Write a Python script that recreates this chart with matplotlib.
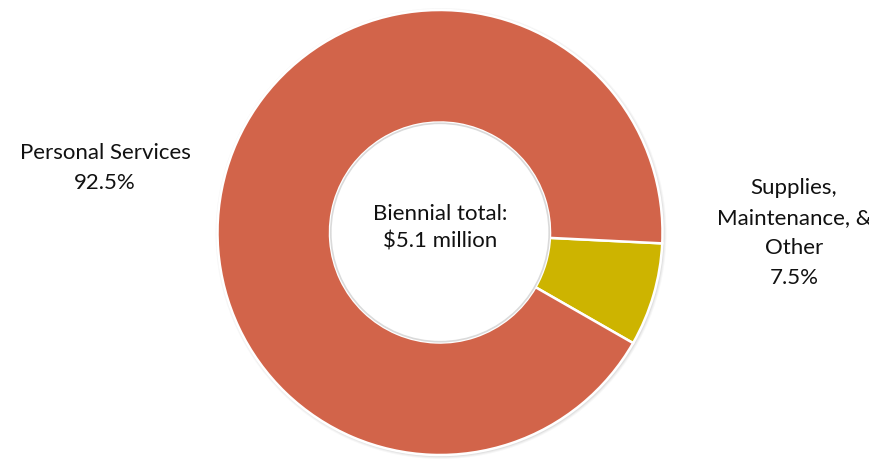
import matplotlib
matplotlib.use("Agg")
import matplotlib.pyplot as plt

categories = ["Supplies,\nMaintenance, &\nOther", "Personal Services"]
values = [7.5, 92.5]
colors = ["#CDB400", "#D2644A"]
center_text = "Biennial total:\n$5.1 million"

plt.rcParams['font.family'] = ['Lato', 'DejaVu Sans']

W, H = 870, 462
fig = plt.figure(figsize=(W / 100, H / 100), dpi=100)
ax = fig.add_axes([0, 0, 1, 1])

cx, cy = 440, H - 232.5
R = 222.5
r_in = 110

# soft shadow
for i, a in enumerate([0.05, 0.04, 0.03]):
    ax.add_patch(plt.Circle((cx + 1, cy - 1), R + 1 + i, color="#000000", alpha=a, lw=0, zorder=0))

wedges, _ = ax.pie(values, colors=colors, startangle=-2.8, counterclock=False,
                   radius=R, center=(cx, cy),
                   wedgeprops=dict(width=R - r_in, edgecolor="white", linewidth=1.8),
                   frame=True)
ax.set_xlim(0, W)
ax.set_ylim(0, H)
ax.set_aspect("equal")
ax.axis("off")

# white hole with a faint rim
ax.add_patch(plt.Circle((cx, cy), r_in - 0.8, fc="white", ec="#dadada", lw=1.2, zorder=3))

fs = 16
ls = 1.62
ax.text(cx, H - 228, center_text, ha="center", va="center", fontsize=fs,
        linespacing=1.5, color="#111111", zorder=4)
ax.text(105, H - 168, f"{categories[1]}\n{values[1]}%", ha="center", va="center",
        fontsize=fs, linespacing=ls, color="#111111")
ax.text(794, H - 233, f"{categories[0]}\n{values[0]}%", ha="center", va="center",
        fontsize=fs, linespacing=ls, color="#111111")

fig.savefig("out.png", dpi=100, facecolor="white")
